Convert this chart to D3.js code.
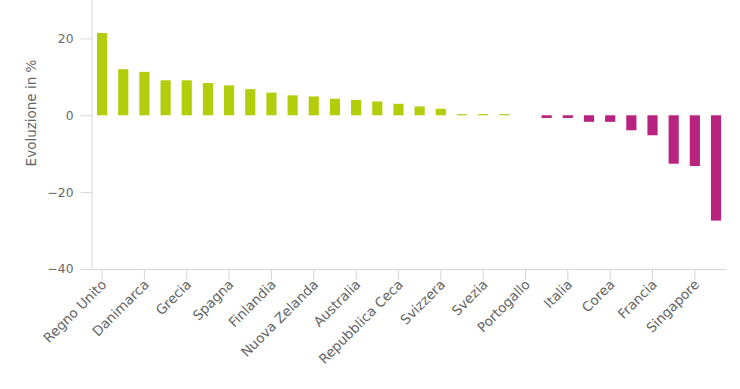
<!DOCTYPE html>
<html><head><meta charset="utf-8">
<script src="https://cdn.jsdelivr.net/npm/d3@7"></script>
<style>body{margin:0;background:#fff;}svg{display:block;font-family:"DejaVu Sans",sans-serif;}</style>
</head><body><svg id="c" width="740" height="389"></svg>
<script>
const categories = ["Regno Unito","Irlanda","Danimarca","Norvegia","Grecia","Belgio","Spagna","Paesi Bassi","Finlandia","Austria","Nuova Zelanda","Canada","Australia","Stati Uniti","Repubblica Ceca","Germania","Svizzera","Israele","Svezia","Ungheria","Portogallo","Polonia","Italia","Giappone","Corea","Messico","Francia","Cile","Singapore","Islanda"];
const values = [21.4,12.0,11.3,9.1,9.1,8.4,7.8,6.8,5.9,5.2,4.9,4.3,4.0,3.6,3.0,2.3,1.7,0.3,0.3,0.3,0,-0.7,-0.7,-1.7,-1.7,-3.9,-5.2,-12.6,-13.2,-27.4];
const yTicks = [-40,-20,0,20];
const yDomain = [-40,30];
const yTitle = "Evoluzione in %";
const colPos = "#b3cd0c", colNeg = "#b8237f";

(function(){
const svg = d3.select("#c");
const pl = 91.5, pr = 726.6, pt = 0, pb = 269;
const x = d3.scaleBand().domain(categories).range([pl, pr]).paddingInner(0.52).paddingOuter(0.26);
const y = d3.scaleLinear().domain(yDomain).range([pb, pt]);

svg.append("g").selectAll("rect").data(categories).join("rect")
  .attr("x", d => x(d))
  .attr("width", x.bandwidth())
  .attr("y", (d,i) => y(Math.max(0, values[i])))
  .attr("height", (d,i) => Math.abs(y(values[i]) - y(0)))
  .attr("fill", (d,i) => values[i] >= 0 ? colPos : colNeg);

const ya = svg.append("g").attr("transform", `translate(${pl},0)`)
  .call(d3.axisLeft(y).tickValues(yTicks).tickSize(11).tickPadding(7).tickFormat(d => d < 0 ? "\u2212" + Math.abs(d) : d));
ya.select(".domain").attr("stroke", "#d6d6d2").attr("d", `M0.5,${pt}V${pb}`);
ya.selectAll(".tick line").attr("stroke", "#d6d6d2");
ya.selectAll(".tick text").attr("fill", "#666").attr("font-size", 12.3).attr("font-family", "DejaVu Sans");

const xa = svg.append("g").attr("transform", `translate(0,${pb})`)
  .call(d3.axisBottom(x).tickValues(categories.filter((d,i) => i % 2 === 0)).tickSize(11).tickSizeOuter(0));
xa.select(".domain").attr("stroke", "#d6d6d2").attr("d", `M${pl},0.5H${pr}`);
xa.selectAll(".tick line").attr("stroke", "#d6d6d2");
xa.selectAll(".tick text").attr("fill", "#666").attr("font-size", 13.5).attr("font-family", "DejaVu Sans")
  .attr("text-anchor", "end").attr("transform", "translate(2,13) rotate(-45)").attr("dy", "0.35em").attr("y", 0).attr("x", 0);

svg.append("text").attr("transform", `translate(36,113) rotate(-90)`)
  .attr("text-anchor", "middle").attr("fill", "#666").attr("font-size", 13.5).text(yTitle);
})();
</script></body></html>
